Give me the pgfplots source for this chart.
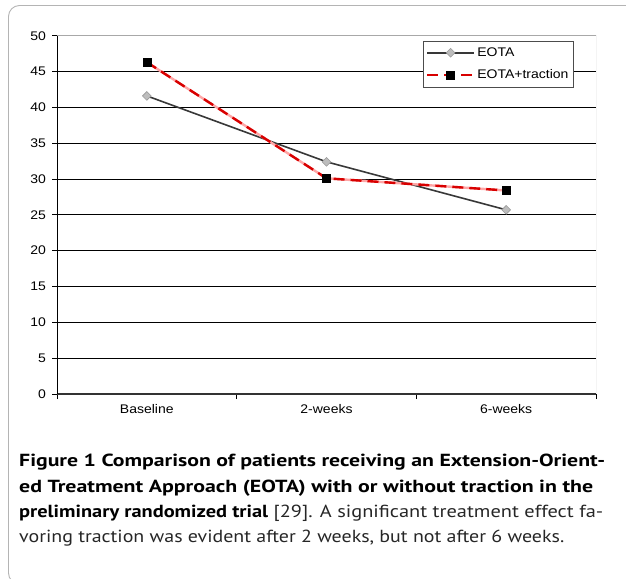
\documentclass[border=0pt]{standalone}
\usepackage{fontspec}
\usepackage{graphicx}
\usepackage{pgfplots}
\pgfplotsset{compat=1.18}
\newfontfamily\chartfont[FakeStretch=1.12]{Liberation Sans}
\newfontfamily\capfont{PT Sans}

\definecolor{eotaline}{HTML}{383838}
\definecolor{eotamark}{HTML}{BDBDBD}
\definecolor{eotaedge}{HTML}{9A9A9A}
\definecolor{tracred}{HTML}{D80000}
\definecolor{tracpink}{HTML}{FFA6A6}
\definecolor{framegray}{HTML}{B4B4B4}
\definecolor{boxgray}{HTML}{A8A8A8}

\pgfplotsset{
    long legend/.style={
        legend image code/.code={
            \draw[mark repeat=2, mark phase=2, ##1]
                plot coordinates {(0pt,0pt) (23.5pt,0pt) (47pt,0pt)};
        }
    },
    pink legend/.style={
        legend image code/.code={
            \draw[tracpink, line width=2.4pt] (0pt,0pt) -- (47pt,0pt);
            \draw[mark repeat=2, mark phase=2, ##1]
                plot coordinates {(0pt,0pt) (23.5pt,0pt) (47pt,0pt)};
        }
    },
}

% one caption line, stretched sideways to the width it has in the figure
\newcommand{\capline}[3]{%
  \node[anchor=base west, inner sep=0pt, text=black!85] at (19pt,#1)
    {\resizebox{#2}{\height}{\capfont\fontsize{17.5}{21}\selectfont #3}};}

\begin{document}
\begin{tikzpicture}
\useasboundingbox (0pt,0pt) rectangle (626pt,-578pt);
% rounded frame around figure and caption
\draw[framegray, line width=0.9pt, rounded corners=11pt] (8.5pt,-5.5pt) rectangle (700pt,-584pt);

\begin{axis}[
    at={(57pt,-394pt)}, anchor=south west,
    scale only axis,
    width=539pt, height=358.3pt,
    xmin=-0.5, xmax=2.5,
    ymin=0, ymax=50,
    axis lines*=left,
    axis line style={black, line width=0.8pt},
    x axis line style={draw=black!80, line width=1.4pt},
    xtick={-0.5,0.5,1.5,2.5},
    xticklabels={},
    extra x ticks={0,1,2},
    extra x tick labels={Baseline,2-weeks,6-weeks},
    extra x tick style={major tick length=0pt},
    ytick={0,5,...,50},
    tick align=outside,
    major tick length=5pt,
    tick style={black, line width=0.8pt},
    ymajorgrids,
    grid style={black, line width=0.8pt},
    tick label style={font=\chartfont\fontsize{12.5}{14}\selectfont},
    /pgf/number format/assume math mode=true,
    yticklabel style={xshift=-2.5pt},
    xticklabel style={yshift=-6.5pt},
    legend style={
        at={(0.679,0.986)}, anchor=north west,
        draw=black!70, line width=0.8pt, fill=white,
        font=\chartfont\fontsize{12.5}{14}\selectfont,
        inner xsep=2.5pt, inner ysep=1.5pt,
        row sep=2pt,
        nodes={inner xsep=2pt, inner ysep=5pt},
    },
    legend cell align=left,
]
% EOTA
\addplot[eotaline, line width=1.6pt,
    mark=square*, mark size=3.1pt,
    mark options={rotate=45, fill=eotamark, draw=eotaedge, line width=0.6pt},
    long legend]
    coordinates {(0,41.6) (1,32.4) (2,25.7)};
\addlegendentry{EOTA}
% EOTA+traction: pink underlay
\addplot[tracpink, line width=2.4pt, forget plot]
    coordinates {(0,46.3) (1,30.1) (2,28.4)};
\addplot[tracred, line width=2.4pt, dash pattern=on 11pt off 6pt,
    mark=square*, mark size=4pt,
    mark options={solid, fill=black, draw=black, line width=0.6pt},
    pink legend]
    coordinates {(0,46.3) (1,30.1) (2,28.4)};
\addlegendentry{EOTA+traction}
% light border at top and right of plot area
\draw[boxgray, line width=0.9pt] (rel axis cs:0,1) -- (rel axis cs:1,1) -- (rel axis cs:1,0);
\end{axis}

% caption
\capline{-466.7pt}{586pt}{\textbf{\color{black}Figure 1 Comparison of patients receiving an Extension-Orient-}}
\capline{-492.7pt}{574pt}{\textbf{\color{black}ed Treatment Approach (EOTA) with or without traction in the}}
\capline{-517.7pt}{584pt}{\textbf{\color{black}preliminary randomized trial} [29]. A significant treatment effect fa-}
\capline{-542.7pt}{545pt}{voring traction was evident after 2 weeks, but not after 6 weeks.}
\end{tikzpicture}
\end{document}
